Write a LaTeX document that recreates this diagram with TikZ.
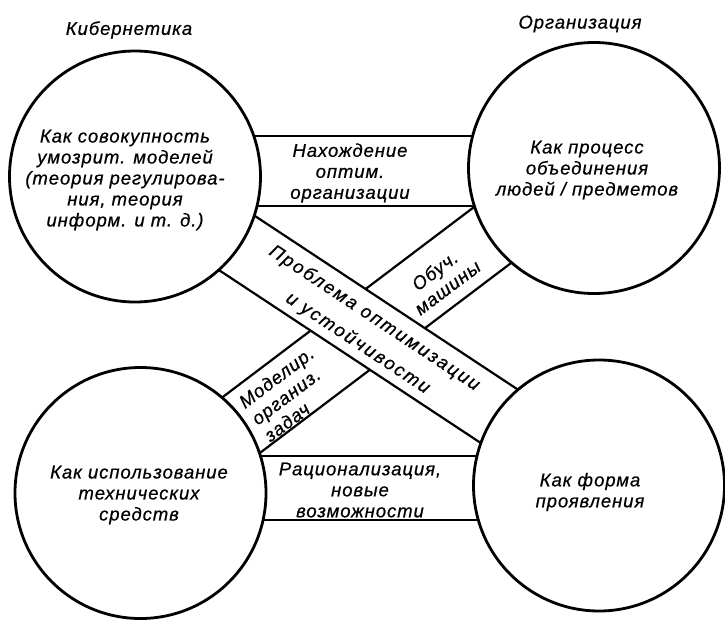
\documentclass[tikz,border=0pt]{standalone}
\usepackage{fontspec}
\setmainfont{Liberation Sans}[LetterSpace=5,FakeBold=0.6]
\newfontfamily\widefont{Liberation Sans}[LetterSpace=11,FakeBold=0.6]
\usetikzlibrary{calc}
\newcommand\dtxt{\fontsize{18.5}{21}\selectfont\itshape}
\newcommand\wtxt{\widefont\fontsize{18.5}{30}\selectfont\itshape}
\newcommand\drawband[3]{%
  \fill[white] ($(#1)!#3!90:(#2)$) -- ($(#2)!#3!-90:(#1)$) -- ($(#2)!#3!90:(#1)$) -- ($(#1)!#3!-90:(#2)$) -- cycle;
  \draw[bandline] ($(#1)!#3!90:(#2)$) -- ($(#2)!#3!-90:(#1)$);
  \draw[bandline] ($(#1)!#3!-90:(#2)$) -- ($(#2)!#3!90:(#1)$);
}
\tikzset{
  circ/.style={circle, draw, line width=2.8pt, fill=white, minimum size=251pt, inner sep=0pt},
  bandline/.style={line width=2.2pt},
  lbl/.style={align=center, font=\dtxt, inner sep=0pt},
}
\begin{document}
\begin{tikzpicture}[x=1pt,y=-1pt]
\useasboundingbox (0,0) rectangle (725,621);
\fill[white] (0,0) rectangle (725,621);
% circle centres
\coordinate (cK) at (135,176.5);
\coordinate (cO) at (594,168);
\coordinate (cT) at (140.5,493);
\coordinate (cF) at (599,485.5);
% band ends
\coordinate (h1a) at (135,171);   \coordinate (h1b) at (594,171);
\coordinate (h2a) at (140,488);   \coordinate (h2b) at (599,488);
\coordinate (d1a) at (135,175.7); \coordinate (d1b) at (597,480.8);
\coordinate (d2a) at (140,501.6); \coordinate (d2b) at (596,156.8);
% bands
\drawband{h1a}{h1b}{35pt}
\drawband{h2a}{h2b}{32pt}
\drawband{d2a}{d2b}{33.5pt}
\drawband{d1a}{d1b}{32.5pt}
% circles
\node[circ] (kib) at (cK) {};
\node[circ] (org) at (cO) {};
\node[circ] (tech) at (cT) {};
\node[circ] (form) at (cF) {};
% titles
\node[lbl] (t1) at (129,30) {Кибернетика};
\node[lbl] (t2) at (580,24) {Организация};
% circle texts
\node[lbl] (kibtxt) at (125,180) {Как совокупность\\умозрит. моделей\\(теория регулирова-\\ния, теория\\информ. и т. д.)};
\node[lbl] (orgtxt) at (587,170) {Как процесс\\объединения\\людей / предметов};
\node[lbl] (techtxt) at (139,495) {Как использование\\технических\\средств};
\node[lbl] (formtxt) at (590,492) {Как форма\\проявления};
% band texts
\node[lbl] (h1txt) at (350,173) {Нахождение\\оптим.\\организации};
\node[lbl] (h2txt) at (360,490) {Рационализация,\\новые\\возможности};
\node[lbl, font=\wtxt, rotate=-33.5] (d1txt) at (366,331) {Проблема оптимизации\\и устойчивости};
\node[lbl, rotate=37] (d2up) at (441,279) {Обуч.\\машины};
\node[lbl, rotate=37, align=left] (d2low) at (289,394) {Моделир.\\организ.\\задач};
\end{tikzpicture}
\end{document}
